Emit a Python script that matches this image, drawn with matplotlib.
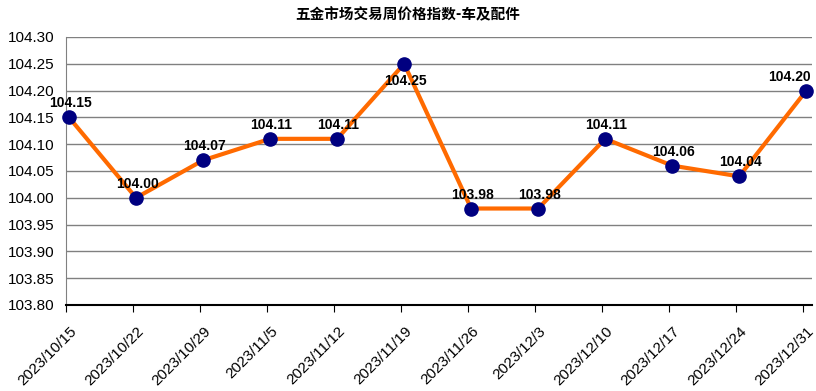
import matplotlib
matplotlib.use("Agg")
import matplotlib.pyplot as plt
from matplotlib.transforms import ScaledTranslation

plt.rcParams['font.family'] = ['Liberation Sans', 'Noto Sans CJK SC', 'DejaVu Sans']

dates = ["2023/10/15", "2023/10/22", "2023/10/29", "2023/11/5", "2023/11/12", "2023/11/19",
         "2023/11/26", "2023/12/3", "2023/12/10", "2023/12/17", "2023/12/24", "2023/12/31"]
values = [104.15, 104.00, 104.07, 104.11, 104.11, 104.25,
          103.98, 103.98, 104.11, 104.06, 104.04, 104.20]
title = "五金市场交易周价格指数-车及配件"

fig = plt.figure(figsize=(8.16, 3.91), dpi=100)
ax = fig.add_axes([66 / 816, 86 / 391, 746 / 816, 268 / 391])

x = list(range(len(values)))
shift = 0.045  # points sit slightly right of the category ticks
ax.plot(x, values, color="#FF6A00", lw=3, zorder=3, clip_on=False)
ax.plot(x, values, "o", color="#000080", ms=9.5, zorder=4, clip_on=False)

for i, v in enumerate(values):
    if v >= 104.25:
        off, va = -7, "top"
    else:
        off, va = 5, "bottom"
    dx = -12 if i == len(values) - 1 else 1
    ax.annotate(f"{v:.2f}", (i, v), xytext=(dx, off), textcoords="offset points",
                ha="center", va=va, fontsize=10, fontweight="bold", color="black", zorder=5)

ax.set_xlim(-shift, 11.085)
ax.set_ylim(103.80, 104.30)
ax.set_yticks([103.80 + 0.05 * k for k in range(11)])
ax.set_yticklabels([f"{103.80 + 0.05 * k:.2f}" for k in range(11)], fontsize=11)
ax.yaxis.grid(True, color="#808080", lw=1)
ax.set_axisbelow(True)
ax.tick_params(axis="y", length=0, pad=8)

ax.set_xticks([i - shift for i in x])
ax.set_xticklabels(dates, rotation=45, ha="right", rotation_mode="anchor", fontsize=11)
ax.tick_params(axis="x", length=5, direction="out", color="black", pad=3)
off_tr = ScaledTranslation(0.035, -0.08, fig.dpi_scale_trans)
for lab in ax.get_xticklabels():
    lab.set_transform(lab.get_transform() + off_tr)

for s in ["top", "right"]:
    ax.spines[s].set_visible(False)
ax.spines["left"].set_color("#808080")
ax.spines["bottom"].set_color("black")
ax.spines["bottom"].set_linewidth(1.5)

fig.text(0.5, 1 - 14 / 391, title, ha="center", va="center", fontsize=10.5,
         fontweight="bold", family=["Noto Sans CJK SC", "DejaVu Sans"])

fig.savefig("out.png", dpi=100)
